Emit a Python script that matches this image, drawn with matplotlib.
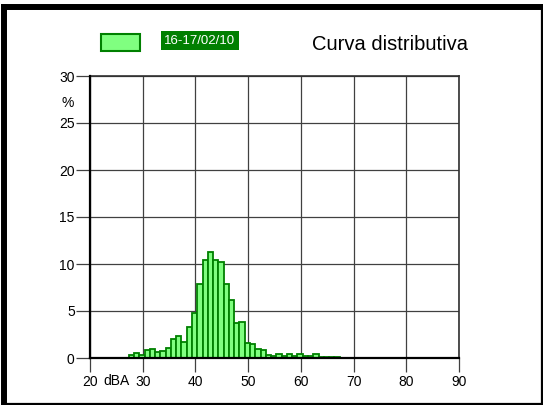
import matplotlib
matplotlib.use("Agg")
import matplotlib.pyplot as plt
from matplotlib.patches import Rectangle
from matplotlib.lines import Line2D

plt.rcParams['font.family'] = ['Liberation Sans', 'DejaVu Sans']

# level classes (dBA) and percentage of time in each class
db_levels = [28, 29, 30, 31, 32, 33, 34, 35, 36, 37, 38, 39, 40, 41, 42, 43, 44, 45, 46, 47,
             48, 49, 50, 51, 52, 53, 54, 55, 56, 57, 58, 59, 60, 61, 62, 63, 64, 65, 66, 67]
percent = [0.36, 0.48, 0.36, 0.8, 0.98, 0.68, 0.78, 1.1, 2.0, 2.38, 1.67, 3.27, 4.76, 7.86,
           10.39, 11.28, 10.39, 10.21, 7.86, 6.19, 3.70, 3.81, 1.57, 1.46, 0.96, 0.85, 0.30,
           0.21, 0.44, 0.22, 0.44, 0.22, 0.44, 0.2, 0.16, 0.4, 0.14, 0.1, 0.1, 0.07]
xticks = [20, 30, 40, 50, 60, 70, 80, 90]
yticks = [0, 5, 10, 15, 20, 25, 30]
series_name = "16-17/02/10"
title = "Curva distributiva"

W, H = 543, 405
fig = plt.figure(figsize=(W / 100, H / 100), dpi=100)
fig.patch.set_facecolor('white')

ax = fig.add_axes([90 / W, 1 - 358 / H, (459 - 90) / W, (358 - 76) / H])
ax.set_axisbelow(True)
ax.bar([d - 0.15 for d in db_levels], percent, width=1.0, color='#80FF80',
       edgecolor='#008000', linewidth=1.3, zorder=3)

ax.set_xlim(20, 90)
ax.set_ylim(0, 30)
ax.set_xticks(xticks)
ax.set_yticks(yticks)
ax.grid(True, color='#404040', linewidth=0.9)
ax.tick_params(axis='both', direction='out', length=10, width=0.9, color='#404040',
               labelsize=10, pad=1)
ax.tick_params(axis='x', pad=2)
for side in ['left', 'bottom']:
    ax.spines[side].set_linewidth(1.6)
    ax.spines[side].set_color('black')
    ax.spines[side].set_zorder(4)
for side in ['top', 'right']:
    ax.spines[side].set_linewidth(1.2)
    ax.spines[side].set_color('#303030')

# unit labels
fig.text(68 / W, 1 - 103 / H, '%', fontsize=10, ha='center', va='center')
fig.text(116 / W, 1 - 381 / H, 'dBA', fontsize=10, ha='center', va='center')

# legend swatch and label
fig.add_artist(Rectangle((101 / W, 1 - 51 / H), 39 / W, 17 / H, transform=fig.transFigure,
                         facecolor='#80FF80', edgecolor='#008000', linewidth=1.5))
fig.text(200 / W, 1 - 40.5 / H, series_name, fontsize=9.5, color='white', ha='center',
         va='center', bbox=dict(facecolor='#007F00', edgecolor='none', pad=2.5))
fig.text(390 / W, 1 - 45 / H, title, fontsize=14.5, ha='center', va='center')

# outer frame, drawn as four separate lines (pixel positions from the top-left)
frame = [((1, 6.5), (543, 6.5), 4.3),     # top
         ((4, 4), (4, 405), 4.3),         # left
         ((542, 4), (542, 405), 1.6),     # right
         ((1, 404), (543, 404), 1.6)]     # bottom
for (x0, y0), (x1, y1), lw in frame:
    fig.add_artist(Line2D([x0 / W, x1 / W], [1 - y0 / H, 1 - y1 / H], transform=fig.transFigure,
                          color='black', linewidth=lw, solid_capstyle='butt'))

fig.savefig('out.png', dpi=100)
